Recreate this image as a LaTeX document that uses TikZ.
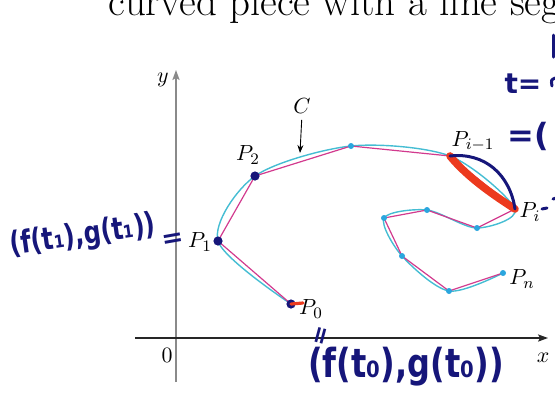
\documentclass[tikz,border=0pt]{standalone}
\usepackage{fontspec}
\usepackage{xcolor}
\usetikzlibrary{arrows.meta, calc}
\newfontfamily\handfont{DejaVu Sans}
\definecolor{curvecyan}{HTML}{45BDD3}
\definecolor{chordpink}{HTML}{D23A8E}
\definecolor{vertexcyan}{HTML}{2AA6DE}
\definecolor{inkblue}{HTML}{16167A}
\definecolor{inkred}{HTML}{EC3A1E}
\definecolor{axisgray}{HTML}{8A8A8A}
\tikzset{
  curveline/.style={draw=curvecyan, line width=0.7pt},
  chordline/.style={draw=chordpink, line width=0.6pt},
  vertexdot/.style={circle, fill=vertexcyan, inner sep=0pt, minimum size=3pt},
  inkdot/.style={circle, fill=inkblue, inner sep=0pt, minimum size=4.6pt},
  ptlabel/.style={inner sep=0pt, font=\fontsize{11}{13}\selectfont},
  hand/.style={text=inkblue, inner sep=0pt, font=\handfont\bfseries\fontsize{#1}{#1}\selectfont},
  inkline/.style={draw=inkblue, line width=1.5pt, line cap=round},
  axisarrow/.style={-{Stealth[length=5pt, width=3.6pt, inset=1pt]}},
}

\begin{document}
\begin{tikzpicture}[x=0.5pt, y=-0.5pt]
  \useasboundingbox (0,0) rectangle (555,393);

  % Text line above the figure
  \node[anchor=base west, inner sep=0pt, font=\fontsize{20.5}{22}\selectfont] (heading) at (108,15) {curved piece with a line segment};

  % Axes
  \coordinate (xstart) at (135,338);
  \coordinate (xend) at (548,338);
  \coordinate (ystart) at (176,382);
  \coordinate (yend) at (176,70);
  \draw[axisarrow, draw=axisgray, line width=0.75pt] (ystart) -- (yend);
  \draw[axisarrow, draw=black!85, line width=0.6pt] (xstart) -- (xend);
  \node[ptlabel] (ylabel) at (163,80) {$y$};
  \node[ptlabel] (xlabel) at (543,358) {$x$};
  \node[ptlabel] (origin) at (167,355) {$0$};

  % Points of the polygon
  \coordinate (p0) at (291,304);
  \coordinate (p1) at (218,241);
  \coordinate (p2) at (255,176);
  \coordinate (p3) at (351,146);
  \coordinate (pim) at (450,156);
  \coordinate (pi) at (515,209);
  \coordinate (q1) at (477,228);
  \coordinate (q2) at (427,210);
  \coordinate (q3) at (384,218);
  \coordinate (q4) at (402,256);
  \coordinate (q5) at (449,291);
  \coordinate (pn) at (503,273);

  % Curve C and the polygon
  \draw[curveline] plot[smooth, tension=0.5] coordinates {(p0) (p1) (p2) (p3) (pim) (pi) (q1) (q2) (q3) (q4) (q5) (pn)};
  \draw[chordline] (p0) -- (p1) -- (p2) -- (p3) -- (pim) -- (pi) -- (q1) -- (q2) -- (q3) -- (q4) -- (q5) -- (pn);

  % Dots
  \foreach \v in {p3,pim,pi,q1,q2,q3,q4,q5,pn}
    \node[vertexdot] (d\v) at (\v) {};
  \foreach \v in {p0,p1,p2}
    \node[inkdot] (d\v) at (\v) {};

  % Labels
  \node[ptlabel] (lp0) at (311,309) {$P_0$};
  \node[ptlabel] (lp1) at (200,242) {$P_1$};
  \node[ptlabel] (lp2) at (248,155) {$P_2$};
  \node[ptlabel] (lpim) at (473,141) {$P_{i-1}$};
  \node[ptlabel] (lpi) at (530,212) {$P_i$};
  \node[ptlabel] (lpn) at (522,279) {$P_n$};
  \node[ptlabel] (lc) at (302,106) {$C$};
  \coordinate (ctip) at (300,153);
  \draw[-{Stealth[length=4pt, width=3pt]}, line width=0.45pt, shorten <=3pt] (lc.south) -- (ctip);

  % Hand-drawn marks
  \draw[inkred, line width=3.8pt, line cap=round] (pim) .. controls (468,178) and (495,196) .. (pi);
  \draw[inkline] (pim) .. controls (485,152) and (510,175) .. (pi);
  \draw[inkred, line width=1.6pt, line cap=round] (p0) -- ++(12,-1);

  \node[hand=12, rotate=8, yscale=1.3] (hp1) at (83,236) {(f(t₁),g(t₁))};
  \node[hand=13, rotate=10] (heq1) at (173,240) {=};
  \node[hand=16, yscale=1.25] (hp0) at (406,367) {(f(t₀),g(t₀))};
  \node[hand=12, rotate=75] (heq0) at (323,336) {=};
  \node[hand=14] (ht) at (523,84) {t=};
  \node[hand=16, anchor=west] (hparen) at (507,136) {=(};
  \draw[inkline] (553,35) -- (553,57);
  \draw[inkline] (555,78) .. controls (551,80) .. (552,86);
  \draw[inkline] (542,209) -- (547,208);
  \draw[inkline] (553,199) -- (556,198);
\end{tikzpicture}
\end{document}
